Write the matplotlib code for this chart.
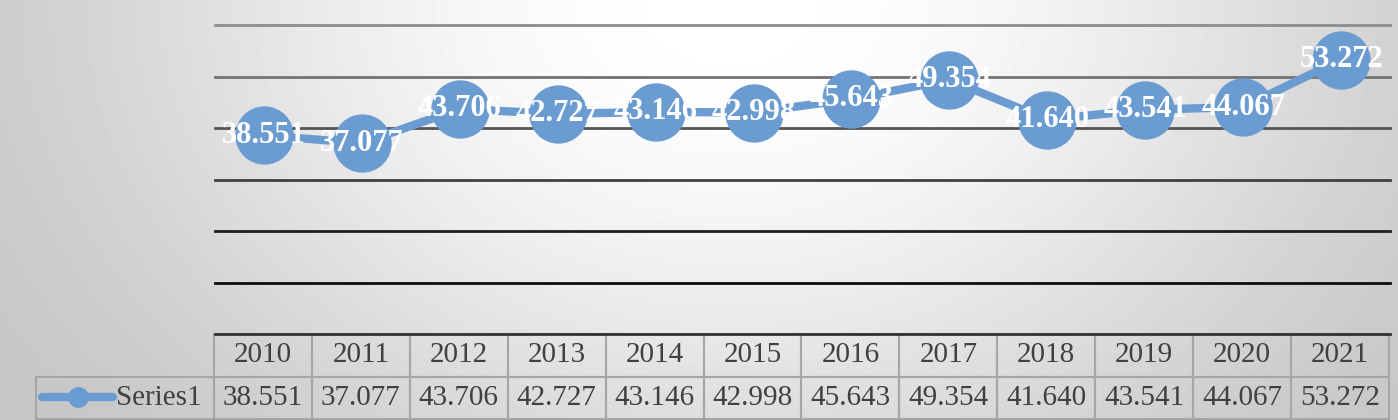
"""
Line chart with a data table under it (Series1, 2010-2021)
"""

import matplotlib
matplotlib.use('Agg')
import matplotlib.pyplot as plt
import numpy as np

# ==========================================
# DATA
# ==========================================
years = ['2010', '2011', '2012', '2013', '2014', '2015',
         '2016', '2017', '2018', '2019', '2020', '2021']
series1 = [38.551, 37.077, 43.706, 42.727, 43.146, 42.998,
           45.643, 49.354, 41.640, 43.541, 44.067, 53.272]
series_name = 'Series1'
y_ticks = [0, 10, 20, 30, 40, 50, 60]

W, H = 1398, 420
BLUE = '#6a9bd1'
SERIF = ['Liberation Serif', 'DejaVu Serif']

fig = plt.figure(figsize=(W / 100, H / 100), dpi=100)

# ==========================================
# FONDO: degradado gris (blanco arriba al centro)
# ==========================================
bg = fig.add_axes([0, 0, 1, 1], zorder=-10)
yy, xx = np.mgrid[0:H, 0:W]
d2 = ((xx - 730) / 730) ** 2 + (yy / 560) ** 2
shade = 1.0 - 0.24 * np.tanh(d2 / 0.9)
bg.imshow(shade, cmap='gray', vmin=0, vmax=1, aspect='auto',
          extent=[0, 1, 0, 1], interpolation='bilinear')
bg.set_xlim(0, 1)
bg.set_ylim(0, 1)
bg.axis('off')

# ==========================================
# GRÁFICO
# ==========================================
left, bottom, top = 215, 334, 25
ax = fig.add_axes([left / W, (H - bottom) / H, 1175 / W, (bottom - top) / H])
ax.set_facecolor('none')
x = np.arange(len(years))
ax.set_xlim(-0.5, len(years) - 0.5)
ax.set_ylim(y_ticks[0], y_ticks[-1])
for s in ax.spines.values():
    s.set_visible(False)
ax.set_xticks([])
ax.set_yticks([])

# gridlines: más oscuras hacia abajo
grays = ['0.2', '0.05', '0.12', '0.25', '0.33', '0.45', '0.55']
for yt, g in zip(y_ticks, grays):
    ax.axhline(yt, color=g, lw=2, zorder=1, clip_on=False)

ax.plot(x, series1, color=BLUE, lw=6, marker='o', markersize=41,
        markeredgecolor=BLUE, zorder=3, clip_on=False)

for xi, v in zip(x, series1):
    ax.text(xi, v, f'{v:.3f}', ha='center', va='center', color='white',
            fontsize=22, fontweight='bold', family=SERIF, zorder=4)

# ==========================================
# TABLA DE DATOS
# ==========================================
first_w = 178
col_w = 1175 / len(years)
widths = np.array([first_w] + [col_w] * len(years))
widths = widths / widths.sum()

cell_text = [[''] + years, [series_name] + [f'{v:.3f}' for v in series1]]
tb_left = (36 - left) / 1175
tb_bottom = (bottom - 419) / (bottom - top)
tb_h = (419 - bottom) / (bottom - top)
table = ax.table(cellText=cell_text, colWidths=list(widths), cellLoc='center',
                 bbox=[tb_left, tb_bottom, (1389 - 36) / 1175, tb_h])
table.auto_set_font_size(False)
for (r, c), cell in table.get_celld().items():
    cell.set_facecolor('none')
    cell.set_edgecolor('#a6a6a6')
    cell.set_linewidth(1.5)
    cell.set_text_props(family=SERIF, fontsize=21, color='#404040')
    if r == 0 and c == 0:
        cell.visible_edges = ''
    if r == 1 and c == 0:
        cell.PAD = 0.07
        cell._loc = 'right'
        cell.get_text().set_ha('right')

# muestra de leyenda en la celda
leg_y = (bottom - 397) / (bottom - top)
lx = [(42 - left) / 1175, (113 - left) / 1175]
ax.plot(lx, [leg_y, leg_y], transform=ax.transAxes, color=BLUE, lw=6,
        solid_capstyle='round', clip_on=False, zorder=5)
ax.plot([(78 - left) / 1175], [leg_y], transform=ax.transAxes, marker='o',
        markersize=14, color=BLUE, clip_on=False, zorder=5)

plt.savefig('out.png', dpi=100)
plt.close()
